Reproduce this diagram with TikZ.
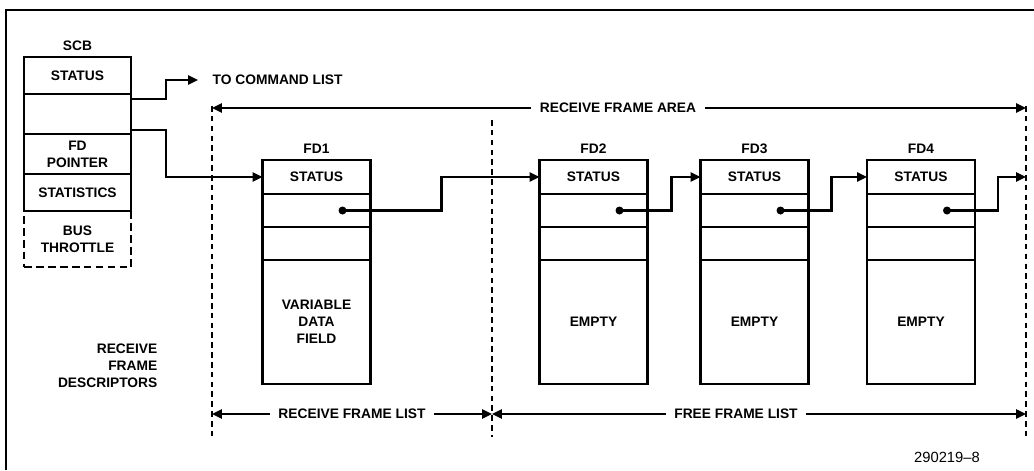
\documentclass[tikz,border=0pt]{standalone}
\usepackage{fontspec}
\setmainfont{Liberation Sans}
\usetikzlibrary{arrows.meta,positioning,calc}

\begin{document}
\begin{tikzpicture}[x=0.025cm, y=-0.025cm,
    txt/.style={font=\fontsize{9.8}{12}\selectfont\bfseries, inner sep=1pt, align=center},
    cell/.style={txt, draw, line width=2pt, minimum width=2.7cm, outer sep=0pt},
    fdtop/.style={cell, minimum height=0.85cm},
    fdrow/.style={cell, minimum height=0.825cm},
    fdbody/.style={cell, minimum height=3.1cm},
    scbrow/.style={cell, minimum width=2.675cm, minimum height=1cm},
    ptr/.style={circle, fill, inner sep=0pt, minimum size=0.2cm},
    link/.style={line width=1.5pt, -{Triangle[length=7pt,width=6.5pt]}},
    dim/.style={line width=1.5pt, -{Triangle[length=7pt,width=6.5pt]}},
    bound/.style={line width=1.5pt, dash pattern=on 4pt off 3pt},
    >=Stealth
  ]
  \useasboundingbox (0,0) rectangle (1034,470);

  % --- Frame ---
  \draw[line width=1.1pt] (6,470) -- (6,10) -- (1034,10);

  % --- SCB ---
  \node[scbrow, minimum height=0.925cm] (scb1) at (77.5,75.5) {STATUS};
  \node[scbrow, below=0pt of scb1] (scb2) {};
  \node[scbrow, below=0pt of scb2] (scb3) {FD\\POINTER};
  \node[scbrow, minimum height=0.925cm, below=0pt of scb3] (scb4) {STATISTICS};
  \node[scbrow, minimum height=1.4cm, below=0pt of scb4,
    dash pattern=on 5.5pt off 3pt] (scb5) {BUS\\THROTTLE};
  \node[txt, above=0.12cm of scb1] (scb) {SCB};

  % --- Command list pointer ---
  \node[txt, anchor=west] (cmd) at (211,80) {TO COMMAND LIST};
  \coordinate (cmdtip) at (198,80);

  % --- Frame descriptors ---
  \node[fdtop] (fd1a) at (316.5,177) {STATUS};
  \node[fdrow, below=0pt of fd1a] (fd1b) {};
  \node[fdrow, below=0pt of fd1b] (fd1c) {};
  \node[fdbody, below=0pt of fd1c] (fd1d) {VARIABLE\\DATA\\FIELD};
  \node[txt, above=0.12cm of fd1a] (fd1l) {FD1};

  \node[fdtop] (fd2a) at (593.5,177) {STATUS};
  \node[fdrow, below=0pt of fd2a] (fd2b) {};
  \node[fdrow, below=0pt of fd2b] (fd2c) {};
  \node[fdbody, below=0pt of fd2c] (fd2d) {EMPTY};
  \node[txt, above=0.12cm of fd2a] (fd2l) {FD2};

  \node[fdtop] (fd3a) at (754.5,177) {STATUS};
  \node[fdrow, below=0pt of fd3a] (fd3b) {};
  \node[fdrow, below=0pt of fd3b] (fd3c) {};
  \node[fdbody, below=0pt of fd3c] (fd3d) {EMPTY};
  \node[txt, above=0.12cm of fd3a] (fd3l) {FD3};

  \node[fdtop] (fd4a) at (921,177) {STATUS};
  \node[fdrow, below=0pt of fd4a] (fd4b) {};
  \node[fdrow, below=0pt of fd4b] (fd4c) {};
  \node[fdbody, below=0pt of fd4c] (fd4d) {EMPTY};
  \node[txt, above=0.12cm of fd4a] (fd4l) {FD4};

  % --- Link pointers ---
  \node[ptr] (p1) at ($(fd1b)+(26,0)$) {};
  \node[ptr] (p2) at ($(fd2b)+(26,0)$) {};
  \node[ptr] (p3) at ($(fd3b)+(26,0)$) {};
  \node[ptr] (p4) at ($(fd4b)+(26,0)$) {};
  \coordinate (rfaend) at (1026,177);

  % --- Area boundaries ---
  \coordinate (lt) at (212,106);
  \coordinate (lb) at (212,437);
  \coordinate (mt) at (492,120);
  \coordinate (mb) at (492,437);
  \coordinate (rt) at (1026,106);
  \coordinate (rb) at (1026,437);
  \draw[bound] (lt) -- (lb);
  \draw[bound] (mt) -- (mb);
  \draw[bound] (rt) -- (rb);

  % --- Links ---
  \draw[link] ([yshift=0.375cm]scb2.east) -- ++(35,0) |- (cmdtip);
  \draw[link] ([yshift=-0.4cm]scb2.east) -- ++(35,0) |- (fd1a.west);
  \draw[link] (p1.center) -- ++(99,0) |- (fd2a.west);
  \draw[link] (p2.center) -- ++(52,0) |- (fd3a.west);
  \draw[link] (p3.center) -- ++(51,0) |- (fd4a.west);
  \draw[link] (p4.center) -- ++(51,0) |- (rfaend);

  % --- Dimension lines ---
  \node[txt, inner xsep=6pt] (rfa) at (618,108) {RECEIVE FRAME AREA};
  \coordinate (rfaL) at (212,108);
  \coordinate (rfaR) at (1026,108);
  \draw[dim] (rfa) -- (rfaL);
  \draw[dim] (rfa) -- (rfaR);

  \node[txt, inner xsep=6pt] (rfl) at (352,414) {RECEIVE FRAME LIST};
  \node[txt, inner xsep=6pt] (ffl) at (736,414) {FREE FRAME LIST};
  \coordinate (bl) at (212,414);
  \coordinate (bm) at (492,414);
  \coordinate (br) at (1026,414);
  \draw[dim] (rfl) -- (bl);
  \draw[dim] (rfl) -- (bm);
  \draw[dim] (ffl) -- (bm);
  \draw[dim] (ffl) -- (br);

  % --- Side and figure labels ---
  \node[txt, align=right, anchor=east] (rfd) at (159,366) {RECEIVE\\FRAME\\DESCRIPTORS};
  \node[font=\fontsize{10.5}{12}\selectfont, inner sep=0pt] (code) at (947,457) {290219--8};
\end{tikzpicture}
\end{document}
